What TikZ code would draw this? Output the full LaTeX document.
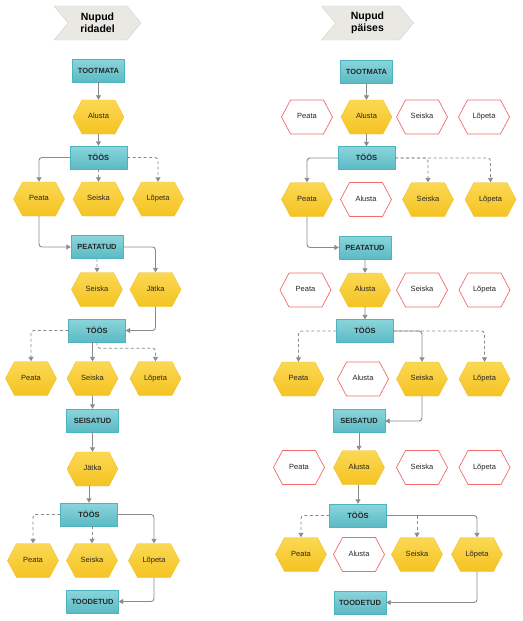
\documentclass[tikz,border=0pt]{standalone}
\usepackage{fontspec}
\setmainfont{Liberation Sans}
\usetikzlibrary{shapes.symbols,arrows.meta}
\definecolor{boxtop}{HTML}{8AD5DC}
\definecolor{boxbot}{HTML}{5BBAC4}
\definecolor{boxline}{HTML}{4DB3BE}
\definecolor{hextop}{HTML}{FBD853}
\definecolor{hexbot}{HTML}{F5C322}
\definecolor{hexline}{HTML}{EFC133}
\definecolor{offline}{HTML}{F26B6B}
\definecolor{wire}{HTML}{8A8A8A}
\definecolor{bannerfill}{HTML}{E9E8E2}
\definecolor{bannerline}{HTML}{D3D1C9}
\begin{document}
\begin{tikzpicture}
    [
      x=1pt, y=-1pt,
      state/.style={draw=boxline, top color=boxtop, bottom color=boxbot,
        minimum width=52pt, minimum height=23pt, inner sep=0pt,
        text height=5.4pt, text depth=0pt,
        font=\fontsize{7.5}{9}\selectfont\bfseries, text=black!85},
      toos/.style={minimum width=57pt},
      hexbase/.style={signal, signal to=east and west, signal pointer angle=124,
        minimum width=51pt, minimum height=34pt, inner sep=0pt,
        text height=5.4pt, text depth=1.6pt,
        font=\fontsize{7.5}{9}\selectfont, text=black!85},
      btn/.style={hexbase, draw=hexline, top color=hextop, bottom color=hexbot},
      btnoff/.style={hexbase, draw=offline, fill=white, line width=0.7pt},
      banner/.style={signal, signal from=west, signal to=east, signal pointer angle=101,
        fill=bannerfill, draw=bannerline, minimum height=34pt, inner sep=0pt,
        align=center, font=\fontsize{10.5}{12}\selectfont\bfseries},
      flow/.style={draw=wire, line width=0.9pt, rounded corners=3pt,
        -{Triangle[length=4.5pt,width=5pt]}},
      optflow/.style={flow, dash pattern=on 3pt off 2.5pt},
    ]
    %
    \useasboundingbox (0,0) rectangle (522,621);

    % left: buttons in rows
    \node [banner, minimum width=87pt] (lHead) at (97.5,23) {Nupud\\ridadel};
    \node [state] (lTootmata) at (98.5,70.5) {TOOTMATA};
    \node [btn] (lAlusta) at (98.5,117) {Alusta};
    \node [state, toos] (lToos1) at (98.5,157.5) {TÖÖS};
    \node [btn] (lPeata1) at (39,199) {Peata};
    \node [btn] (lSeiska1) at (98.5,199) {Seiska};
    \node [btn] (lLopeta1) at (158,199) {Lõpeta};
    \node [state] (lPeatatud) at (97,247) {PEATATUD};
    \node [btn] (lSeiska2) at (97,289.5) {Seiska};
    \node [btn] (lJatka1) at (155.5,289.5) {Jätka};
    \node [state, toos] (lToos2) at (97,330.5) {TÖÖS};
    \node [btn] (lPeata2) at (31,378.5) {Peata};
    \node [btn] (lSeiska3) at (92.5,378.5) {Seiska};
    \node [btn] (lLopeta2) at (155.5,378.5) {Lõpeta};
    \node [state] (lSeisatud) at (92.5,420.5) {SEISATUD};
    \node [btn] (lJatka2) at (92.5,469) {Jätka};
    \node [state, toos] (lToos3) at (89,514.5) {TÖÖS};
    \node [btn] (lPeata3) at (33,560.5) {Peata};
    \node [btn] (lSeiska4) at (92,560.5) {Seiska};
    \node [btn] (lLopeta3) at (154,560.5) {Lõpeta};
    \node [state] (lToodetud) at (92.5,601.5) {TOODETUD};

    \draw [flow] (lTootmata) -- (lAlusta);
    \draw [flow] (lAlusta) -- (lToos1);
    \draw [flow] (lToos1.west) -| (lPeata1.north);
    \draw [optflow] (lToos1) -- (lSeiska1);
    \draw [optflow] (lToos1.east) -| (lLopeta1.north);
    \draw [flow] (lPeata1.south) |- (lPeatatud.west);
    \draw [optflow] (lPeatatud) -- (lSeiska2);
    \draw [flow] (lPeatatud.east) -| (lJatka1.north);
    \draw [flow] (lJatka1.south) |- (lToos2.east);
    \draw [optflow] (lToos2.west) -| (lPeata2.north);
    \draw [flow] (lToos2.south -| lSeiska3.north) -- (lSeiska3.north);
    \draw [optflow] (lToos2.south) -- ++(0,6) -| (lLopeta2.north);
    \draw [flow] (lSeiska3) -- (lSeisatud);
    \draw [flow] (lSeisatud) -- (lJatka2);
    \draw [flow] (lJatka2.south -| lToos3.north) -- (lToos3.north);
    \draw [optflow] (lToos3.west) -| (lPeata3.north);
    \draw [optflow] (lToos3.south -| lSeiska4.north) -- (lSeiska4.north);
    \draw [flow] (lToos3.east) -| (lLopeta3.north);
    \draw [flow] (lLopeta3.south) |- (lToodetud.east);

    % right: buttons in header rows
    \node [banner, minimum width=92pt] (rHead) at (367.5,23) {Nupud\\päises};
    \node [state] (rTootmata) at (366.5,71.5) {TOOTMATA};
    \foreach \n/\x/\s/\t in {rPeata1/307/btnoff/Peata, rAlusta1/366.5/btn/Alusta,
      rSeiska1/422/btnoff/Seiska, rLopeta1/484/btnoff/Lõpeta}
      \node [\s] (\n) at (\x,117) {\t};
    \node [state, toos] (rToos1) at (366.5,158) {TÖÖS};
    \foreach \n/\x/\s/\t in {rPeata2/307/btn/Peata, rAlusta2/366/btnoff/Alusta,
      rSeiska2/428/btn/Seiska, rLopeta2/490.5/btn/Lõpeta}
      \node [\s] (\n) at (\x,199.5) {\t};
    \node [state] (rPeatatud) at (365,247.5) {PEATATUD};
    \foreach \n/\x/\s/\t in {rPeata3/305.5/btnoff/Peata, rAlusta3/365/btn/Alusta,
      rSeiska3/422/btnoff/Seiska, rLopeta3/484.5/btnoff/Lõpeta}
      \node [\s] (\n) at (\x,290) {\t};
    \node [state, toos] (rToos2) at (365,331) {TÖÖS};
    \foreach \n/\x/\s/\t in {rPeata4/298.5/btn/Peata, rAlusta4/363/btnoff/Alusta,
      rSeiska4/422/btn/Seiska, rLopeta4/484.5/btn/Lõpeta}
      \node [\s] (\n) at (\x,379) {\t};
    \node [state] (rSeisatud) at (359,421) {SEISATUD};
    \foreach \n/\x/\s/\t in {rPeata5/299/btnoff/Peata, rAlusta5/359/btn/Alusta,
      rSeiska5/422/btnoff/Seiska, rLopeta5/484.5/btnoff/Lõpeta}
      \node [\s] (\n) at (\x,467.5) {\t};
    \node [state, toos] (rToos3) at (358,515.5) {TÖÖS};
    \foreach \n/\x/\s/\t in {rPeata6/301/btn/Peata, rAlusta6/359/btnoff/Alusta,
      rSeiska6/417/btn/Seiska, rLopeta6/477/btn/Lõpeta}
      \node [\s] (\n) at (\x,554.5) {\t};
    \node [state] (rToodetud) at (360,602.5) {TOODETUD};

    \draw [flow] (rTootmata) -- (rAlusta1);
    \draw [flow] (rAlusta1) -- (rToos1);
    \draw [flow] (rToos1.west) -| (rPeata2.north);
    \draw [optflow] (rToos1.east) -| (rSeiska2.north);
    \draw [optflow] (rToos1.east) -| (rLopeta2.north);
    \draw [flow] (rPeata2.south) |- (rPeatatud.west);
    \draw [flow] (rPeatatud) -- (rAlusta3);
    \draw [flow] (rAlusta3) -- (rToos2);
    \draw [optflow] (rToos2.west) -| (rPeata4.north);
    \draw [optflow] (rToos2.east) -| (rLopeta4.north);
    \draw [flow] (rToos2.east) -| (rSeiska4.north);
    \draw [flow] (rSeiska4.south) |- (rSeisatud.east);
    \draw [flow] (rSeisatud.south -| rAlusta5.north) -- (rAlusta5.north);
    \draw [flow] (rAlusta5.south -| rToos3.north) -- (rToos3.north);
    \draw [optflow] (rToos3.west) -| (rPeata6.north);
    \draw [flow] (rToos3.east) -| (rLopeta6.north);
    \draw [optflow] (rToos3.east -| rSeiska6.north) -- (rSeiska6.north);
    \draw [flow] (rLopeta6.south) |- (rToodetud.east);
  \end{tikzpicture}
\end{document}
